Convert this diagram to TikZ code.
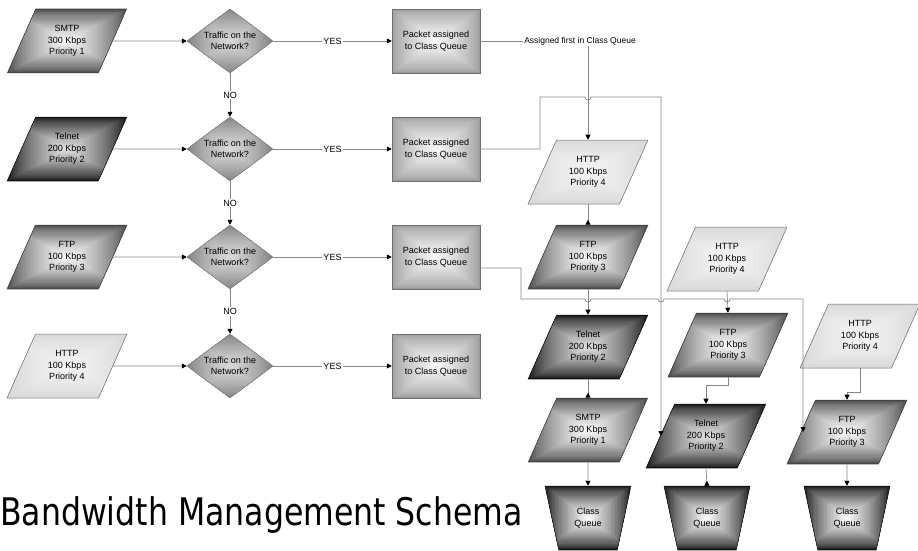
\documentclass[tikz,border=0pt]{standalone}
\usepackage{fontspec}
\setmainfont{Liberation Sans}
\newfontfamily\titlefont{DejaVu Sans}
\usetikzlibrary{shapes.geometric,arrows.meta,calc}

\definecolor{wire}{HTML}{858585}
\definecolor{edgeg}{HTML}{6E6E6E}
\definecolor{midOut}{HTML}{464646}
\definecolor{midIn}{HTML}{FAFAFA}
\definecolor{darkOut}{HTML}{121212}
\definecolor{darkIn}{HTML}{E0E0E0}
\definecolor{paleOut}{HTML}{D6D6D6}
\definecolor{paleIn}{HTML}{F4F4F4}
\definecolor{decOut}{HTML}{7C7C7C}
\definecolor{decIn}{HTML}{D8D8D8}
\definecolor{boxOut}{HTML}{9C9C9C}
\definecolor{boxIn}{HTML}{F6F6F6}

% rectangular "burst" gradient, outer colour #1, centre colour #2
\newcommand\burstfill[2]{%
  \foreach \k in {0,...,29}{
    \pgfmathsetmacro\s{\k/60}
    \pgfmathsetmacro\p{100*(\k/29)^0.7}
    \fill[#2!\p!#1]
      ($(path picture bounding box.south west)!\s!(path picture bounding box.north east)$)
      rectangle
      ($(path picture bounding box.north east)!\s!(path picture bounding box.south west)$);
  }}
\tikzset{burst/.style 2 args={path picture={\burstfill{#1}{#2}}}}

\begin{document}
\begin{tikzpicture}[
  x=1pt, y=-1pt,
  font=\fontsize{9}{11.5}\selectfont,
  para/.style    = {trapezium, trapezium left angle=61, trapezium right angle=119,
                    trapezium stretches=true, minimum width=120, minimum height=64,
                    inner sep=0pt, align=center, line width=0.5pt},
  prio1/.style   = {para, draw=darkOut!80, burst={midOut}{midIn}},
  prio2/.style   = {para, draw=darkOut, burst={darkOut}{darkIn}},
  prio3/.style   = {prio1},
  prio4/.style   = {para, draw=edgeg, burst={paleOut}{paleIn}},
  check/.style   = {diamond, aspect=1.34, minimum width=86, minimum height=64,
                    inner sep=0pt, align=center, draw=decOut, line width=0.5pt,
                    burst={decOut}{decIn}},
  pkt/.style     = {rectangle, minimum width=88, minimum height=64, align=center,
                    draw=edgeg, line width=0.5pt, burst={boxOut}{boxIn}},
  queue/.style   = {trapezium, trapezium left angle=108, trapezium right angle=108,
                    trapezium stretches=true, minimum width=86, minimum height=64,
                    inner sep=0pt, align=center, draw=darkOut, line width=0.5pt,
                    burst={darkOut}{midIn}},
  conn/.style    = {draw=wire, line width=0.7pt},
  tipdn/.style   = {conn, -{Triangle[length=5pt, width=5pt, color=black]}},
  tipup/.style   = {conn, -{Triangle[reversed, length=5pt, width=5pt, color=black]}},
  lbl/.style     = {fill=white, inner sep=1pt},
]
\useasboundingbox (0,0) rectangle (918,551);

%%────────── incoming traffic ───────────────────────────────
\node[prio1] (srcS) at (67, 41)  {SMTP\\300 Kbps\\Priority 1};
\node[prio2] (srcT) at (67,149)  {Telnet\\200 Kbps\\Priority 2};
\node[prio3] (srcF) at (67,257)  {FTP\\100 Kbps\\Priority 3};
\node[prio4] (srcH) at (67,366)  {HTTP\\100 Kbps\\Priority 4};

\node[check] (chkS) at (230, 41) {Traffic on the\\Network?};
\node[check] (chkT) at (230,149) {Traffic on the\\Network?};
\node[check] (chkF) at (230,257) {Traffic on the\\Network?};
\node[check] (chkH) at (230,366) {Traffic on the\\Network?};

\node[pkt] (pktS) at (436, 41) {Packet assigned\\to Class Queue};
\node[pkt] (pktT) at (436,149) {Packet assigned\\to Class Queue};
\node[pkt] (pktF) at (436,257) {Packet assigned\\to Class Queue};
\node[pkt] (pktH) at (436,366) {Packet assigned\\to Class Queue};

\draw[tipdn] (srcS.east) -- (chkS.west);
\draw[tipdn] (srcT.east) -- (chkT.west);
\draw[tipdn] (srcF.east) -- (chkF.west);
\draw[tipdn] (srcH.east) -- (chkH.west);

\draw[tipdn] (chkS.east) -- node[lbl] (yesS) {YES} (pktS.west);
\draw[tipdn] (chkT.east) -- node[lbl] (yesT) {YES} (pktT.west);
\draw[tipdn] (chkF.east) -- node[lbl] (yesF) {YES} (pktF.west);
\draw[tipdn] (chkH.east) -- node[lbl] (yesH) {YES} (pktH.west);

\draw[tipdn] (chkS.south) -- node[lbl] (noS) {NO} (chkT.north);
\draw[tipdn] (chkT.south) -- node[lbl] (noT) {NO} (chkF.north);
\draw[tipdn] (chkF.south) -- node[lbl] (noF) {NO} (chkH.north);

%%────────── class queues ───────────────────────────────────
\node[prio4] (qaH) at (588,172) {HTTP\\100 Kbps\\Priority 4};
\node[prio3] (qaF) at (588,257) {FTP\\100 Kbps\\Priority 3};
\node[prio2] (qaT) at (588,347) {Telnet\\200 Kbps\\Priority 2};
\node[prio1] (qaS) at (588,430) {SMTP\\300 Kbps\\Priority 1};
\node[queue] (qaQ) at (588,518) {Class\\Queue};

\node[prio4] (qbH) at (727,259) {HTTP\\100 Kbps\\Priority 4};
\node[prio3] (qbF) at (728,345) {FTP\\100 Kbps\\Priority 3};
\node[prio2] (qbT) at (706,436) {Telnet\\200 Kbps\\Priority 2};
\node[queue] (qbQ) at (707,518) {Class\\Queue};

\node[prio4] (qcH) at (860,336) {HTTP\\100 Kbps\\Priority 4};
\node[prio3] (qcF) at (847,432) {FTP\\100 Kbps\\Priority 3};
\node[queue] (qcQ) at (847,518) {Class\\Queue};

\draw[tipup] (qaH.south) -- (qaF.north);
\draw[tipdn] (qaF.south) -- (qaT.north);
\draw[tipup] (qaT.south) -- (qaS.north);
\draw[tipdn] (qaS.south) -- (qaQ.north);

\draw[tipdn] (qbH.south) -- (qbF.north);
\draw[tipdn] (qbF.south) -- ++(0,8) -| (qbT.north);
\draw[tipup] (qbT.south) -- (qbQ.north);

\draw[tipdn] (qcH.south) -- ++(0,24) -| (qcF.north);
\draw[tipdn] (qcF.south) -- (qcQ.north);

%%────────── routing to the queues ──────────────────────────
\coordinate (busT) at (540, 97);
\coordinate (colB) at (661, 97);
\coordinate (busF) at (521,299);
\coordinate (colC) at (803,299);

\draw[tipdn] (pktS.east) -| node[lbl, pos=0.5, xshift=-8] (firstS)
  {\fontsize{8.5}{10}\selectfont Assigned first in Class Queue} (qaH.north);

\draw[tipdn] (pktT.east) -| (busT)
  -- ($(qaH.north |- busT)+(-3,0)$) arc[start angle=180, end angle=360, radius=3pt]
  -- (colB) -- (colB |- qbT.west);

\draw[tipdn] ([yshift=-11pt]pktF.east) -| (busF)
  -- ($(qaF.south |- busF)+(-3,0)$) arc[start angle=180, end angle=360, radius=3pt]
  -- ($(colB |- busF)+(-3,0)$) arc[start angle=180, end angle=360, radius=3pt]
  -- ($(qbH.south |- busF)+(-3,0)$) arc[start angle=180, end angle=360, radius=3pt]
  -- (colC) -- (colC |- qcF.west);

%%── title ───────────────────────────────────────────────────
\node[anchor=base west, inner sep=0pt, font=\fontsize{38}{40}\titlefont] (title)
  at (0,525) {\scalebox{0.83}[1]{Bandwidth Management Schema}};

\end{tikzpicture}
\end{document}
